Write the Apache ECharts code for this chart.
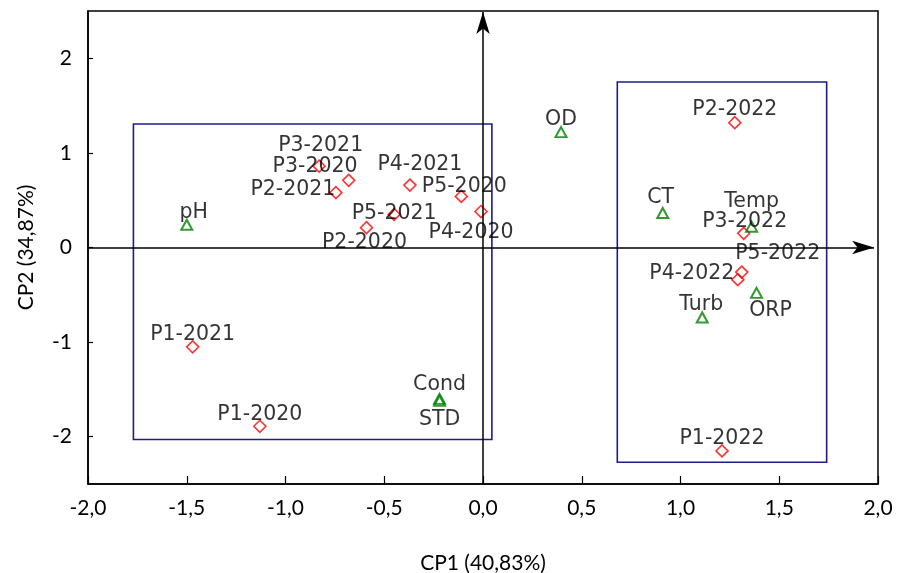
<!DOCTYPE html>
<html>
<head>
<meta charset="utf-8">
<script src="https://cdn.jsdelivr.net/npm/echarts@6/dist/echarts.min.js"></script>
<style>html,body{margin:0;padding:0;background:#fff;}#c{width:898px;height:573px;}</style>
</head>
<body>
<div id="c"></div>
<script>
// Samples (red diamonds)
var sampleNames = ['P1-2020','P2-2020','P3-2020','P4-2020','P5-2020','P1-2021','P2-2021','P3-2021','P4-2021','P5-2021','P1-2022','P2-2022','P3-2022','P4-2022','P5-2022'];
var sampleX = [-1.13,-0.59,-0.83,-0.01,-0.11,-1.47,-0.745,-0.68,-0.37,-0.45,1.21,1.275,1.32,1.29,1.31];
var sampleY = [-1.89,0.21,0.86,0.38,0.54,-1.05,0.58,0.71,0.66,0.35,-2.15,1.32,0.15,-0.34,-0.26];
// Variables (green triangles)
var varNames = ['pH','Cond','STD','OD','CT','Temp','Turb','ORP'];
var varX = [-1.50,-0.22,-0.22,0.395,0.91,1.36,1.11,1.385];
var varY = [0.24,-1.60,-1.62,1.22,0.365,0.22,-0.74,-0.48];
// Group rectangles [x1, y1, x2, y2]
var boxes = [[-1.77,1.305,0.045,-2.03],[0.68,1.75,1.74,-2.27]];
var yTicks = [-2,-1,0,1,2];

// label placement (pixel offsets of label centre from its point)
var labelOffsets = {
  'P1-2020':[0,-15],'P2-2020':[-2,12],'P3-2020':[-4,-2],'P4-2020':[-10,18],'P5-2020':[3,-13],
  'P1-2021':[0,-15],'P2-2021':[-43,-6],'P3-2021':[-28,-38],'P4-2021':[10,-23],'P5-2021':[0,-4],
  'P1-2022':[0,-15],'P2-2022':[0,-16],'P3-2022':[1,-15],'P4-2022':[-46,-9],'P5-2022':[36,-21],
  'pH':[7,-15],'Cond':[0,-17],'STD':[0,16],'OD':[0,-15],'CT':[-2,-18],'Temp':[0,-28],'Turb':[-1,-16],'ORP':[14,15]
};

function mk(names, xs, ys){
  return names.map(function(n,i){ return {name:n, value:[xs[i], ys[i]]}; });
}
function layoutFor(names){
  return function(p){
    var o = labelOffsets[names[p.dataIndex]] || [0,-15];
    var cx = p.rect.x + p.rect.width/2, cy = p.rect.y + p.rect.height/2;
    return {x: cx + o[0], y: cy + o[1] + 3, align:'center', verticalAlign:'middle', hideOverlap:false};
  };
}

var labelFont = {show:true, position:'inside', formatter:'{b}', color:'#000', fontFamily:'DejaVu Sans', fontSize:20.5};

var chart = echarts.init(document.getElementById('c'), null, {renderer:'canvas'});
chart.setOption({
  animation:false,
  backgroundColor:'#fff',
  grid:{left:88, right:20, top:11, bottom:89, outerBoundsMode:'none', containLabel:false,
        show:true, borderColor:'#000', borderWidth:1.5, backgroundColor:'transparent'},
  xAxis:{
    type:'value', min:-2, max:2, interval:0.5,
    name:'CP1 (40,83%)', nameLocation:'middle', nameGap:69,
    nameTextStyle:{fontFamily:'Lato', fontSize:21, color:'#000'},
    axisLine:{show:true, onZero:false, lineStyle:{color:'#000', width:1.5}},
    axisTick:{show:true, inside:true, length:8, lineStyle:{color:'#000', width:1.2}},
    axisLabel:{margin:14, fontFamily:'Lato', fontSize:21, color:'#000',
      formatter:function(v){return v.toFixed(1).replace('.',',');}},
    splitLine:{show:false}
  },
  yAxis:{
    type:'value', min:-2.5, max:2.5,
    name:'CP2 (34,87%)', nameLocation:'middle', nameGap:51, nameRotate:90,
    nameTextStyle:{fontFamily:'Lato', fontSize:21, color:'#000'},
    axisLine:{show:true, onZero:false, lineStyle:{color:'#000', width:1.5}},
    axisTick:{show:true, inside:true, length:5, customValues:yTicks, lineStyle:{color:'#000', width:1.2}},
    axisLabel:{margin:16, fontFamily:'Lato', fontSize:21, color:'#000', customValues:yTicks,
      formatter:function(v){return String(Math.round(v));}},
    splitLine:{show:false}
  },
  series:[
    {
      type:'scatter', name:'guides', data:[], silent:true, z:1,
      markLine:{
        silent:true, animation:false,
        symbol:['none','arrow'], symbolSize:[10,22],
        label:{show:false},
        lineStyle:{color:'#000', width:1.5, type:'solid'},
        data:[
          [{coord:[0,-2.5]},{coord:[0,2.49]}],
          [{coord:[-2,0]},{coord:[1.98,0]}]
        ]
      },
      markArea:{
        silent:true,
        itemStyle:{color:'rgba(0,0,0,0)', borderColor:'#1c1c8c', borderWidth:1.6},
        data: boxes.map(function(b){return [{coord:[b[0],b[1]]},{coord:[b[2],b[3]]}];})
      }
    },
    {
      type:'scatter', name:'samples', z:3,
      symbol:'diamond', symbolSize:12,
      itemStyle:{color:'rgba(255,255,255,0)', borderColor:'#ff0000', borderWidth:1.6},
      label:labelFont,
      labelLayout:layoutFor(sampleNames),
      data: mk(sampleNames, sampleX, sampleY)
    },
    {
      type:'scatter', name:'variables', z:3,
      symbol:'triangle', symbolSize:[11,10],
      itemStyle:{color:'rgba(255,255,255,0)', borderColor:'#008000', borderWidth:2},
      label:labelFont,
      labelLayout:layoutFor(varNames),
      data: mk(varNames, varX, varY)
    }
  ]
});
</script>
</body>
</html>
